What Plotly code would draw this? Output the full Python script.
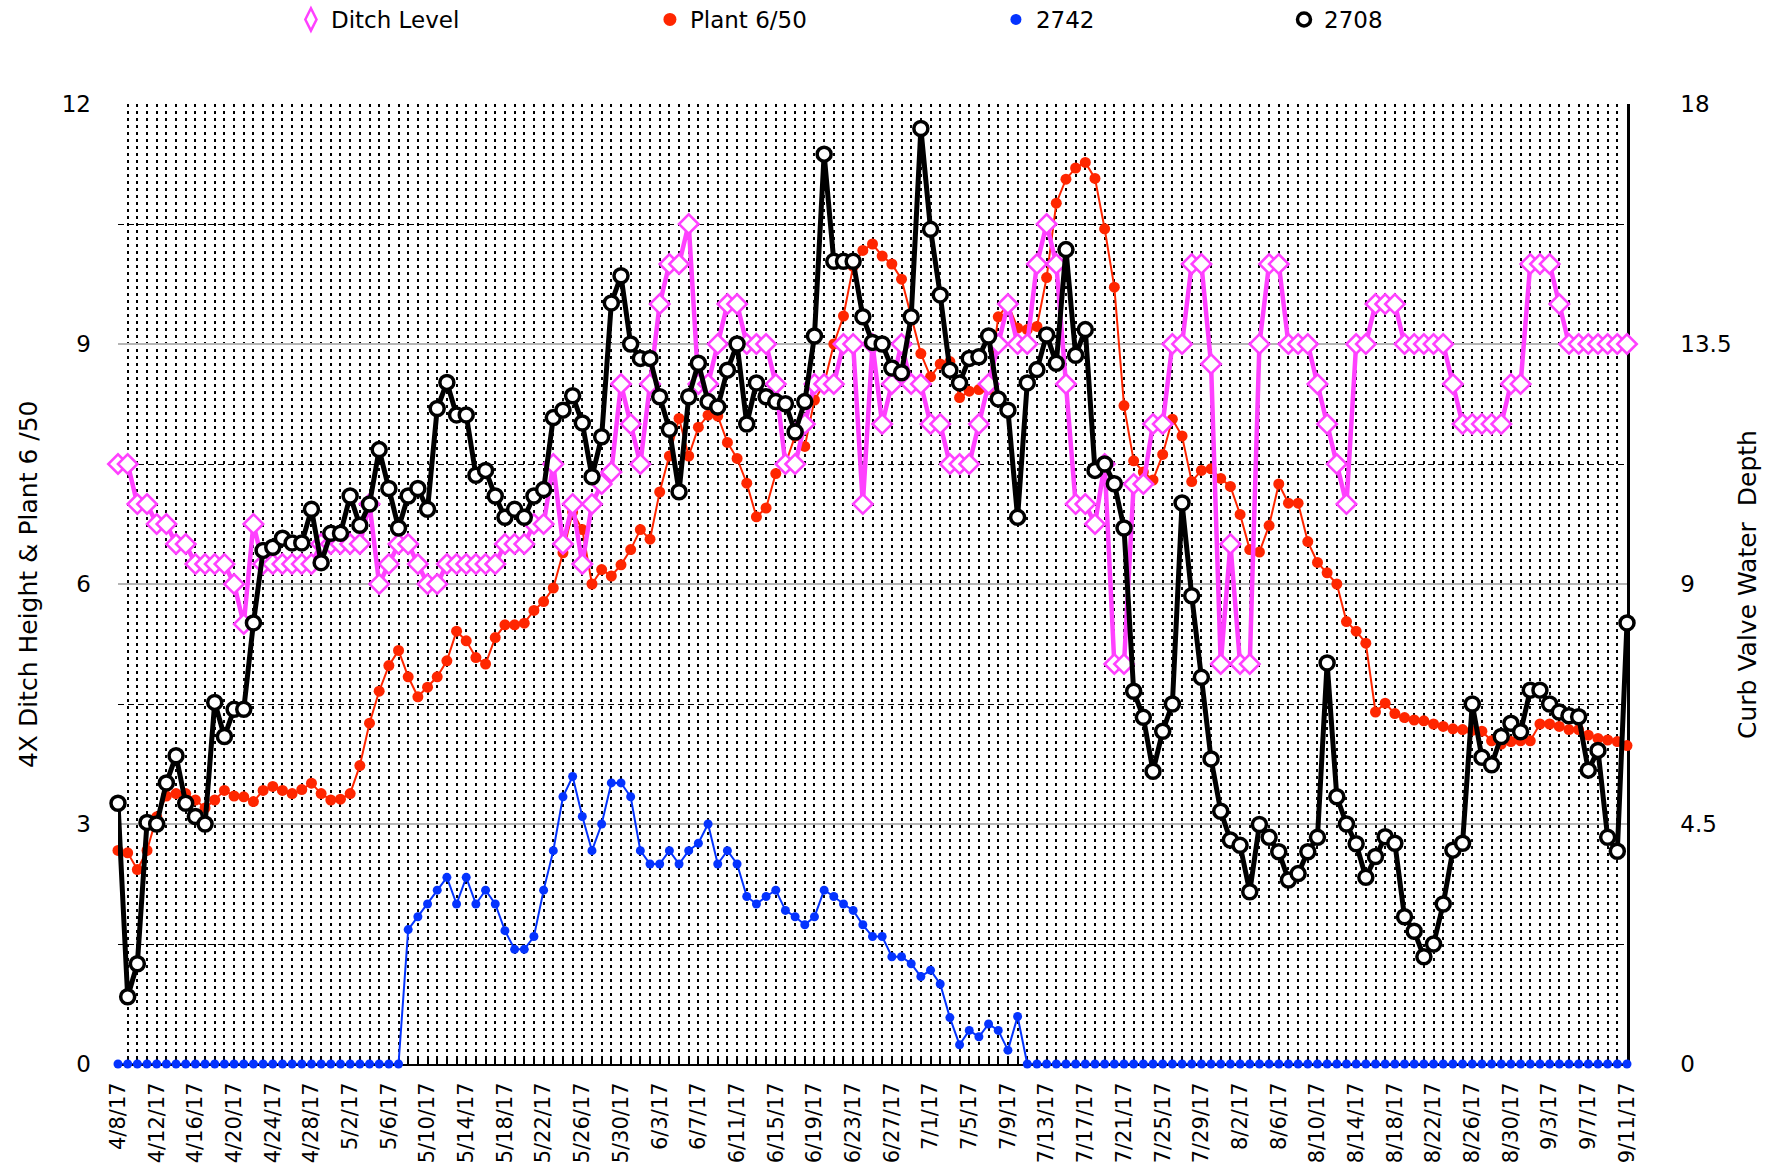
import pandas as pd
import plotly.graph_objects as go

# ---------------- data ----------------
START_DATE = "2017-04-08"
END_DATE = "2017-09-11"
dates = pd.date_range(START_DATE, END_DATE, freq="D")

# left axis (4X Ditch Height & Plant 6/50)
ditch_level = [
    7.5, 7.5, 7.0, 7.0, 6.75, 6.75, 6.5, 6.5, 6.25, 6.25,
    6.25, 6.25, 6.0, 5.5, 6.75, 6.25, 6.25, 6.25, 6.25, 6.25,
    6.25, 6.5, 6.5, 6.5, 6.5, 6.5, 7.0, 6.0, 6.25, 6.5,
    6.5, 6.25, 6.0, 6.0, 6.25, 6.25, 6.25, 6.25, 6.25, 6.25,
    6.5, 6.5, 6.5, 6.75, 6.75, 7.5, 6.5, 7.0, 6.25, 7.0,
    7.25, 7.4, 8.5, 8.0, 7.5, 8.5, 9.5, 10.0, 10.0, 10.5,
    8.5, 8.5, 9.0, 9.5, 9.5, 9.0, 9.0, 9.0, 8.5, 7.5,
    7.5, 8.0, 8.5, 8.5, 8.5, 9.0, 9.0, 7.0, 9.0, 8.0,
    8.5, 9.0, 8.5, 8.5, 8.0, 8.0, 7.5, 7.5, 7.5, 8.0,
    8.5, 9.0, 9.5, 9.0, 9.0, 10.0, 10.5, 10.0, 8.5, 7.0,
    7.0, 6.75, 7.5, 5.0, 5.0, 7.25, 7.25, 8.0, 8.0, 9.0,
    9.0, 10.0, 10.0, 8.75, 5.0, 6.5, 5.0, 5.0, 9.0, 10.0,
    10.0, 9.0, 9.0, 9.0, 8.5, 8.0, 7.5, 7.0, 9.0, 9.0,
    9.5, 9.5, 9.5, 9.0, 9.0, 9.0, 9.0, 9.0, 8.5, 8.0,
    8.0, 8.0, 8.0, 8.0, 8.5, 8.5, 10.0, 10.0, 10.0, 9.5,
    9.0, 9.0, 9.0, 9.0, 9.0, 9.0, 9.0,
]

plant_6_50 = [
    2.67, 2.64, 2.43, 2.67, 3.09, 3.35, 3.38, 3.38, 3.30, 3.20,
    3.30, 3.42, 3.35, 3.34, 3.28, 3.42, 3.47, 3.42, 3.38, 3.43,
    3.51, 3.38, 3.30, 3.31, 3.38, 3.73, 4.26, 4.66, 4.98, 5.17,
    4.84, 4.59, 4.71, 4.84, 5.04, 5.41, 5.29, 5.08, 5.00, 5.33,
    5.49, 5.49, 5.51, 5.67, 5.78, 5.95, 6.39, 6.90, 6.68, 6.00,
    6.18, 6.10, 6.24, 6.43, 6.68, 6.56, 7.15, 7.60, 8.07, 7.60,
    7.96, 8.11, 8.10, 7.77, 7.57, 7.26, 6.84, 6.95, 7.38, 7.50,
    7.85, 7.72, 8.30, 8.50, 9.00, 9.35, 9.97, 10.17, 10.25, 10.10,
    10.00, 9.81, 9.34, 8.88, 8.59, 8.75, 8.78, 8.33, 8.41, 8.43,
    8.43, 9.34, 9.50, 9.20, 9.18, 9.22, 9.83, 10.76, 11.06, 11.20,
    11.27, 11.07, 10.44, 9.71, 8.23, 7.54, 7.40, 7.30, 7.62, 8.06,
    7.85, 7.28, 7.42, 7.44, 7.32, 7.22, 6.87, 6.43, 6.40, 6.73,
    7.25, 7.01, 7.01, 6.53, 6.27, 6.14, 6.00, 5.53, 5.41, 5.26,
    4.40, 4.51, 4.38, 4.33, 4.30, 4.29, 4.25, 4.22, 4.19, 4.18,
    4.17, 4.16, 4.04, 4.00, 4.03, 4.04, 4.04, 4.25, 4.25, 4.22,
    4.18, 4.18, 4.11, 4.07, 4.05, 4.03, 3.98,
]

# right axis (Curb Valve Water Depth)
valve_2742 = (
    [0.0] * 30
    + [
        2.52, 2.76, 3.00, 3.26, 3.50, 3.00, 3.50, 3.00, 3.26, 3.00,
        2.50, 2.15, 2.15, 2.39, 3.26, 4.00, 5.01, 5.39, 4.64, 4.00,
        4.50, 5.27, 5.27, 5.01, 4.00, 3.75, 3.75, 4.00, 3.75, 4.00,
        4.14, 4.50, 3.75, 4.00, 3.75, 3.14, 3.00, 3.14, 3.26, 2.88,
        2.76, 2.61, 2.76, 3.26, 3.14, 3.00, 2.88, 2.61, 2.39, 2.39,
        2.01, 2.01, 1.88, 1.64, 1.76, 1.50, 0.87, 0.36, 0.63, 0.51,
        0.75, 0.63, 0.26, 0.89,
    ]
    + [0.0] * 63
)

valve_2708 = [
    4.89, 1.26, 1.88, 4.53, 4.50, 5.27, 5.78, 4.89, 4.64, 4.50,
    6.78, 6.14, 6.65, 6.65, 8.27, 9.63, 9.69, 9.86, 9.77, 9.77,
    10.40, 9.40, 9.95, 9.95, 10.65, 10.10, 10.50, 11.52, 10.79, 10.05,
    10.65, 10.79, 10.40, 12.29, 12.78, 12.17, 12.17, 11.04, 11.13, 10.65,
    10.25, 10.40, 10.25, 10.65, 10.77, 12.12, 12.26, 12.53, 12.02, 11.01,
    11.76, 14.27, 14.78, 13.50, 13.23, 13.23, 12.51, 11.90, 10.73, 12.51,
    13.14, 12.42, 12.32, 13.01, 13.50, 12.00, 12.77, 12.51, 12.42, 12.38,
    11.85, 12.42, 13.65, 17.06, 15.05, 15.05, 15.05, 14.01, 13.53, 13.50,
    13.05, 12.96, 14.01, 17.54, 15.65, 14.42, 13.01, 12.77, 13.23, 13.26,
    13.65, 12.47, 12.26, 10.25, 12.77, 13.02, 13.67, 13.14, 15.27, 13.29,
    13.77, 11.13, 11.25, 10.88, 10.05, 6.99, 6.50, 5.49, 6.24, 6.75,
    10.52, 8.78, 7.25, 5.72, 4.74, 4.20, 4.10, 3.23, 4.49, 4.25,
    3.98, 3.45, 3.57, 3.98, 4.25, 7.52, 5.01, 4.50, 4.13, 3.50,
    3.89, 4.26, 4.14, 2.76, 2.49, 2.01, 2.25, 3.00, 4.01, 4.14,
    6.75, 5.75, 5.61, 6.14, 6.39, 6.23, 7.01, 7.01, 6.75, 6.60,
    6.53, 6.51, 5.51, 5.88, 4.25, 3.99, 8.27,
]

left_ticks = [0, 3, 6, 9, 12]
right_ticks = [0, 4.5, 9, 13.5, 18]

for name, arr in [("ditch", ditch_level), ("plant", plant_6_50),
                  ("2742", valve_2742), ("2708", valve_2708)]:
    if len(arr) != len(dates):
        raise ValueError(f"{name}: {len(arr)} vs {len(dates)}")

# ---------------- styles ----------------
FONT = "DejaVu Sans"
PINK = "#FF40FF"
RED = "#FF2600"
BLUE = "#0433FF"
BLACK = "#000000"

fig = go.Figure()

# drawing order: 2708 (bottom), 2742, Plant, Ditch (top)
fig.add_trace(go.Scatter(
    x=dates, y=valve_2708, yaxis="y2", mode="lines+markers", name="2708",
    line=dict(color=BLACK, width=5),
    marker=dict(symbol="circle", size=14, color="white", line=dict(color=BLACK, width=3.5)),
    showlegend=False, cliponaxis=False))
fig.add_trace(go.Scatter(
    x=dates, y=valve_2742, yaxis="y2", mode="lines+markers", name="2742",
    line=dict(color=BLUE, width=2),
    marker=dict(symbol="circle", size=9, color=BLUE),
    showlegend=False, cliponaxis=False))
fig.add_trace(go.Scatter(
    x=dates, y=plant_6_50, mode="lines+markers", name="Plant 6/50",
    line=dict(color=RED, width=2),
    marker=dict(symbol="circle", size=11, color=RED),
    showlegend=False, cliponaxis=False))
fig.add_trace(go.Scatter(
    x=dates, y=ditch_level, mode="lines+markers", name="Ditch Level",
    line=dict(color=PINK, width=4.5),
    marker=dict(symbol="diamond", size=15, color="white", line=dict(color=PINK, width=2.5)),
    showlegend=False, cliponaxis=False))

# legend-only entries (markers only, like the reference)
legend_specs = [
    ("Ditch Level", "legend", dict(symbol="diamond-tall", size=18, color="white", line=dict(color=PINK, width=2.5))),
    ("Plant 6/50", "legend2", dict(symbol="circle", size=13, color=RED)),
    ("2742", "legend3", dict(symbol="circle", size=11, color=BLUE)),
    ("2708", "legend4", dict(symbol="circle", size=13, color="white", line=dict(color=BLACK, width=3.5))),
]
for nm, lg, mk in legend_specs:
    fig.add_trace(go.Scatter(x=[None], y=[None], mode="markers", name=nm,
                             marker=mk, legend=lg, showlegend=True))

def legend_at(xp):
    return dict(x=xp, y=1.088, xanchor="left", yanchor="middle",
                orientation="h", bgcolor="rgba(0,0,0,0)",
                font=dict(family=FONT, size=23, color="black"),
                itemsizing="trace")

DAY_MS = 86400000

fig.update_layout(
    width=1779, height=1175,
    margin=dict(l=118, r=152, t=104, b=111, autoexpand=False),
    paper_bgcolor="white", plot_bgcolor="white",
    font=dict(family=FONT, size=23, color="black"),
    legend=legend_at(0.1146),
    legend2=legend_at(0.3525),
    legend3=legend_at(0.5818),
    legend4=legend_at(0.7727),
    xaxis=dict(
        type="date", range=[START_DATE, END_DATE],
        tick0=START_DATE, dtick=4 * DAY_MS, tickformat="%-m/%-d/%y",
        tickangle=-90, tickfont=dict(family=FONT, size=21, color="black"),
        ticks="inside", ticklen=6, tickwidth=1.5, tickcolor="black",
        ticklabelstandoff=8,
        showgrid=True, gridcolor="black", griddash="3px,4px", gridwidth=1.8,
        minor=dict(tick0=START_DATE, dtick=DAY_MS, showgrid=True, gridcolor="black",
                   griddash="3px,4px", gridwidth=1.8,
                   ticks="inside", ticklen=6, tickwidth=1.5, tickcolor="black"),
        showline=True, linecolor="black", linewidth=2, zeroline=False,
        layer="below traces", fixedrange=True,
    ),
    yaxis=dict(
        range=[0, 12], tickmode="array", tickvals=left_ticks,
        ticktext=[str(v) for v in left_ticks],
        tickfont=dict(family=FONT, size=23, color="black"),
        ticks="", ticklabelstandoff=26,
        showgrid=True, gridcolor="#B5B5B5", gridwidth=2,
        minor=dict(tick0=0, dtick=1.5, showgrid=True, gridcolor="black",
                   griddash="6px,4px", gridwidth=1),
        showline=False, zeroline=False, layer="below traces",
    ),
    yaxis2=dict(
        range=[0, 18], overlaying="y", side="right",
        tickmode="array", tickvals=right_ticks,
        ticktext=[("%g" % v) for v in right_ticks],
        tickfont=dict(family=FONT, size=23, color="black"),
        ticks="", ticklabelstandoff=46,
        showgrid=False, zeroline=False,
        showline=True, linecolor="black", linewidth=2.5,
        layer="below traces",
    ),
    annotations=[
        dict(text="4X Ditch Height & Plant 6 /50", textangle=-90,
             xref="paper", yref="paper", x=-0.0596, y=0.5,
             xanchor="center", yanchor="middle", showarrow=False,
             font=dict(family=FONT, size=25, color="black")),
        dict(text="Curb Valve Water  Depth", textangle=-90,
             xref="paper", yref="paper", x=1.0795, y=0.5,
             xanchor="center", yanchor="middle", showarrow=False,
             font=dict(family=FONT, size=25, color="black")),
    ],
)

fig.write_html("out.html", config={"displayModeBar": False},
               post_script="document.body.style.margin='0';")
